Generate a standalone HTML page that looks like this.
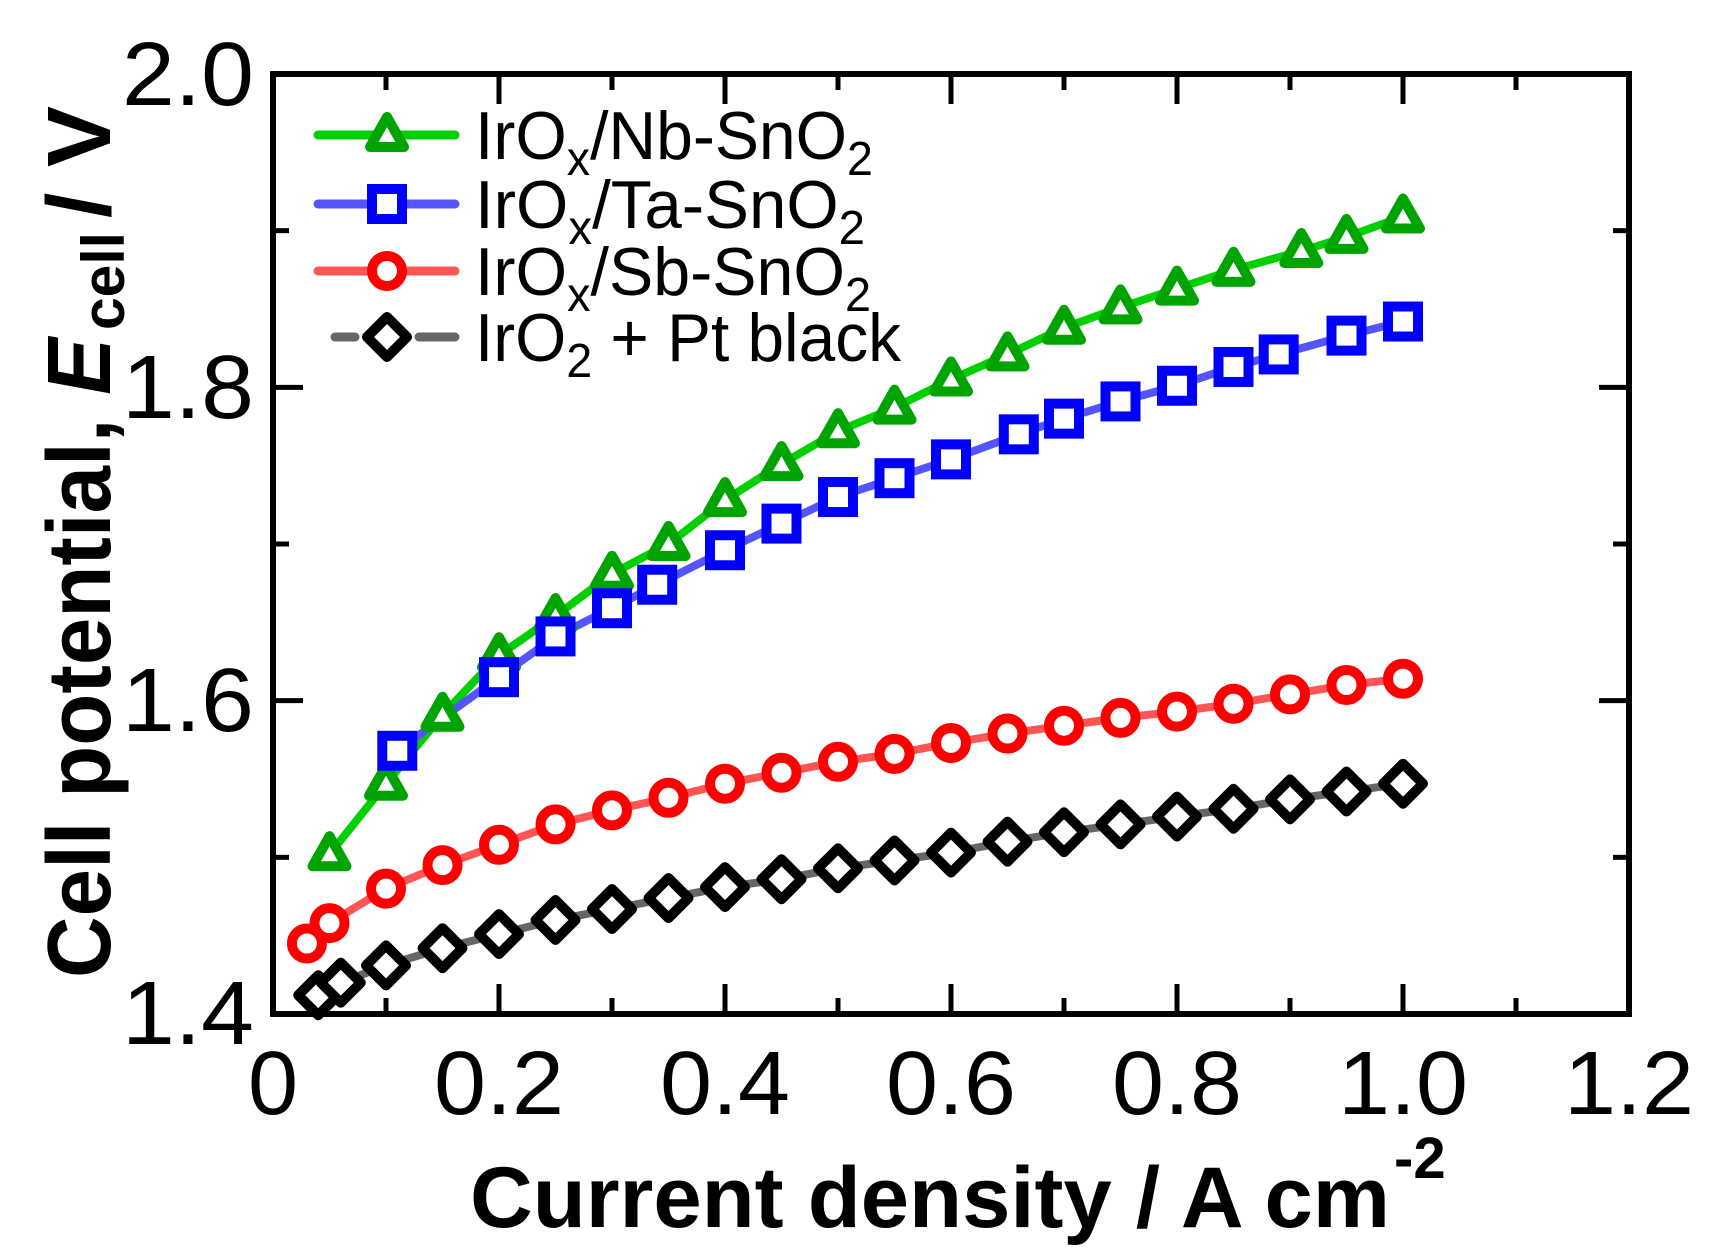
<!DOCTYPE html>
<html><head><meta charset="utf-8"><style>html,body{margin:0;padding:0;background:#fff}svg{display:block}</style></head>
<body>
<svg id="s" width="1724" height="1255" viewBox="0 0 1724 1255" xmlns="http://www.w3.org/2000/svg" font-family="'Liberation Sans', sans-serif">
<rect width="1724" height="1255" fill="#fff"/>
<g id="ticks" stroke="#000" stroke-width="5"></g>
<g id="data"></g>
<rect x="273" y="74" width="1356" height="940" fill="none" stroke="#000" stroke-width="6"/>
<g font-size="90" fill="#000">
<text x="254" y="105" text-anchor="end" textLength="132" lengthAdjust="spacingAndGlyphs">2.0</text>
<text x="254" y="418" text-anchor="end" textLength="132" lengthAdjust="spacingAndGlyphs">1.8</text>
<text x="254" y="731" text-anchor="end" textLength="132" lengthAdjust="spacingAndGlyphs">1.6</text>
<text x="254" y="1044" text-anchor="end" textLength="132" lengthAdjust="spacingAndGlyphs">1.4</text>
<text x="273" y="1114" text-anchor="middle">0</text>
<text x="499" y="1114" text-anchor="middle" textLength="130" lengthAdjust="spacingAndGlyphs">0.2</text>
<text x="725" y="1114" text-anchor="middle" textLength="130" lengthAdjust="spacingAndGlyphs">0.4</text>
<text x="951" y="1114" text-anchor="middle" textLength="130" lengthAdjust="spacingAndGlyphs">0.6</text>
<text x="1177" y="1114" text-anchor="middle" textLength="130" lengthAdjust="spacingAndGlyphs">0.8</text>
<text x="1403" y="1114" text-anchor="middle" textLength="130" lengthAdjust="spacingAndGlyphs">1.0</text>
<text x="1629" y="1114" text-anchor="middle" textLength="130" lengthAdjust="spacingAndGlyphs">1.2</text>
</g>
<text x="470" y="1227" font-size="86" font-weight="bold" textLength="920" lengthAdjust="spacingAndGlyphs">Current density / A cm</text>
<text x="1394" y="1178" font-size="58" font-weight="bold">-2</text>
<g transform="translate(110,978) rotate(-90)" font-weight="bold" font-size="90">
<text x="0" y="0" textLength="640" lengthAdjust="spacingAndGlyphs">Cell potential, <tspan font-style="italic">E</tspan></text>
<text x="648" y="14" font-size="60" textLength="98" lengthAdjust="spacingAndGlyphs">cell</text>
<text x="760" y="0" textLength="112" lengthAdjust="spacingAndGlyphs">/ V</text>
</g>
<g font-size="68" fill="#000">
<text x="475" y="159" textLength="398" lengthAdjust="spacingAndGlyphs">IrO<tspan font-size="48" dy="16">x</tspan><tspan dy="-16">/Nb-SnO</tspan><tspan font-size="48" dy="16">2</tspan></text>
<text x="475" y="228" textLength="390" lengthAdjust="spacingAndGlyphs">IrO<tspan font-size="48" dy="16">x</tspan><tspan dy="-16">/Ta-SnO</tspan><tspan font-size="48" dy="16">2</tspan></text>
<text x="475" y="295" textLength="396" lengthAdjust="spacingAndGlyphs">IrO<tspan font-size="48" dy="16">x</tspan><tspan dy="-16">/Sb-SnO</tspan><tspan font-size="48" dy="16">2</tspan></text>
<text x="475" y="361" textLength="426" lengthAdjust="spacingAndGlyphs">IrO<tspan font-size="48" dy="16">2</tspan><tspan dy="-16"> + Pt black</tspan></text>
</g>
</svg>
<script>
const NS="http://www.w3.org/2000/svg";
const X=v=>273+v*1130, Y=v=>1014-(v-1.4)*1566.7;
function el(t,a,p){const e=document.createElementNS(NS,t);for(const k in a)e.setAttribute(k,a[k]);p.appendChild(e);return e;}
const tk=document.getElementById('ticks');
for(let i=1;i<12;i++){const x=273+i*113,L=i%2==0?30:16;el('line',{x1:x,y1:1014,x2:x,y2:1014-L},tk);el('line',{x1:x,y1:74,x2:x,y2:74+L},tk);}
for(let i=1;i<6;i++){const y=1014-i*156.67,L=i%2==0?30:16;el('line',{x1:273,y1:y,x2:273+L,y2:y},tk);el('line',{x1:1629,y1:y,x2:1629-L,y2:y},tk);}
const S=[
{lc:"#00d000",mc:"#00a400",m:"tri",d:[[.05,1.502],[.1,1.547],[.15,1.591],[.2,1.629],[.25,1.654],[.3,1.681],[.35,1.700],[.4,1.728],[.45,1.751],[.5,1.772],[.55,1.787],[.6,1.805],[.65,1.821],[.7,1.838],[.75,1.851],[.8,1.863],[.85,1.875],[.91,1.887],[.95,1.896],[1.0,1.909]],ly:135},
{lc:"#5555ff",mc:"#0000ff",m:"sq",d:[[.11,1.568],[.2,1.615],[.25,1.641],[.3,1.659],[.34,1.674],[.4,1.696],[.45,1.713],[.5,1.730],[.55,1.742],[.6,1.754],[.66,1.770],[.7,1.780],[.75,1.791],[.8,1.801],[.85,1.813],[.89,1.821],[.95,1.833],[1.0,1.842]],ly:204},
{lc:"#ff5555",mc:"#ff0000",m:"ci",d:[[.03,1.445],[.05,1.458],[.1,1.480],[.15,1.495],[.2,1.508],[.25,1.521],[.3,1.530],[.35,1.538],[.4,1.547],[.45,1.554],[.5,1.561],[.55,1.566],[.6,1.573],[.65,1.579],[.7,1.584],[.75,1.589],[.8,1.593],[.85,1.598],[.9,1.604],[.95,1.610],[1.0,1.614]],ly:271},
{lc:"#666666",mc:"#000000",m:"di",d:[[.04,1.412],[.06,1.420],[.1,1.431],[.15,1.442],[.2,1.451],[.25,1.460],[.3,1.467],[.35,1.474],[.4,1.481],[.45,1.486],[.5,1.493],[.55,1.498],[.6,1.503],[.65,1.510],[.7,1.516],[.75,1.521],[.8,1.526],[.85,1.531],[.9,1.537],[.95,1.542],[1.0,1.547]],ly:337}];
const g=document.getElementById('data');
function mk(m,x,y,c){const a={fill:"#fff",stroke:c,"stroke-width":10,"stroke-linejoin":"round"};
 if(m=="tri"){a.points=`${x},${y-18} ${x+17},${y+12} ${x-17},${y+12}`;el('polygon',a,g);}
 else if(m=="sq"){a.x=x-15;a.y=y-15;a.width=30;a.height=30;a["stroke-linejoin"]="miter";el('rect',a,g);}
 else if(m=="ci"){a.cx=x;a.cy=y;a.r=15;el('circle',a,g);}
 else {a.points=`${x},${y-20} ${x+20},${y} ${x},${y+20} ${x-20},${y}`;el('polygon',a,g);}}
S.forEach(s=>{el('polyline',{points:s.d.map(p=>X(p[0])+","+Y(p[1])).join(" "),fill:"none",stroke:s.lc,"stroke-width":8,"stroke-linejoin":"round"},g);});
S.forEach(s=>{s.d.forEach(p=>mk(s.m,X(p[0]),Y(p[1]),s.mc));
 if(s.m=="di"){el('line',{x1:335,y1:s.ly,x2:355,y2:s.ly,stroke:s.lc,"stroke-width":9,"stroke-linecap":"round"},g);el('line',{x1:419,y1:s.ly,x2:455,y2:s.ly,stroke:s.lc,"stroke-width":9,"stroke-linecap":"round"},g);}
 else el('line',{x1:318,y1:s.ly,x2:455,y2:s.ly,stroke:s.lc,"stroke-width":9,"stroke-linecap":"round"},g);
 mk(s.m,387,s.ly,s.mc);});
</script>
</body></html>
